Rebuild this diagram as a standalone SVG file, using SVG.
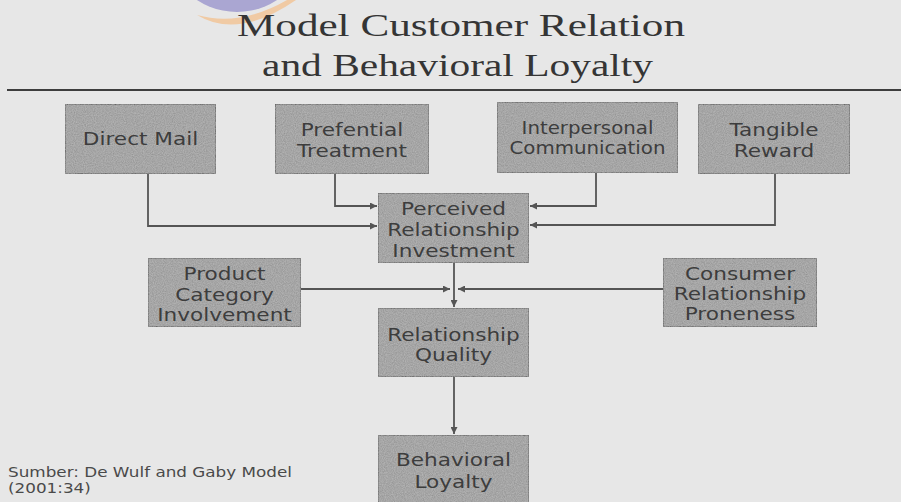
<svg xmlns="http://www.w3.org/2000/svg" width="901" height="502" viewBox="0 0 901 502">
<defs>
<style>
.bg{fill:#e7e7e7}
.box{fill:#8f8f8f;stroke:#595959;stroke-width:2}
.lbl{font-family:"DejaVu Sans",Verdana,sans-serif;font-size:18px;fill:#3d3d3d;text-anchor:middle}
.title{font-family:"Liberation Serif","Times New Roman",serif;font-size:31px;fill:#353535}
.src{font-family:"DejaVu Sans",Verdana,sans-serif;font-size:14px;fill:#4a4a4a}
.conn path{fill:none;stroke:#555;stroke-width:1.8}
</style>
<marker id="arr" viewBox="0 0 10 10" refX="10" refY="5" markerWidth="7" markerHeight="7" markerUnits="userSpaceOnUse" orient="auto">
<path d="M0,0 L10,5 L0,10 Z" fill="#555"/>
</marker>
<filter id="grain" x="0" y="0" width="100%" height="100%">
<feTurbulence type="fractalNoise" baseFrequency="0.9" numOctaves="2" seed="3" result="n"/>
<feColorMatrix in="n" type="matrix" values="0 0 0 0 0.75  0 0 0 0 0.75  0 0 0 0 0.75  0 0 0 0.45 0" result="g"/>
<feComposite in="g" in2="SourceGraphic" operator="in" result="gi"/>
<feMerge><feMergeNode in="SourceGraphic"/><feMergeNode in="gi"/></feMerge>
</filter>
</defs>
<rect class="bg" x="0" y="0" width="901" height="502"/>
<g id="logo">
<circle cx="237" cy="-61" r="73" fill="#aaa6d2"/>
<path d="M197,15 Q238,40 296,0 L287,0 Q240,27 197,15 Z" fill="#f0caa4"/>
</g>
<g id="title">
<text class="title" x="237" y="36" textLength="448" lengthAdjust="spacingAndGlyphs">Model Customer Relation</text>
<text class="title" x="262" y="76" textLength="391" lengthAdjust="spacingAndGlyphs">and Behavioral Loyalty</text>
</g>
<rect x="7" y="89" width="894" height="2" fill="#3d3d3d"/>
<g class="conn" id="connectors">
<path d="M148,174 V226 H377" marker-end="url(#arr)"/>
<path d="M335,174 V206 H377" marker-end="url(#arr)"/>
<path d="M596,173 V206 H530" marker-end="url(#arr)"/>
<path d="M775,174 V225 H530" marker-end="url(#arr)"/>
<path d="M454,263 V307" marker-end="url(#arr)"/>
<path d="M301,289 H450" marker-end="url(#arr)"/>
<path d="M663,289 H458" marker-end="url(#arr)"/>
<path d="M454,377 V434" marker-end="url(#arr)"/>
</g>
<g id="direct-mail">
<rect class="box" x="65" y="104" width="151" height="70" filter="url(#grain)"/>
<g transform="translate(140.5 0) scale(1.2 1)"><text class="lbl" x="0" y="145">Direct Mail</text></g>
</g>
<g id="prefential-treatment">
<rect class="box" x="275" y="104" width="154" height="70" filter="url(#grain)"/>
<g transform="translate(352 0) scale(1.2 1)">
<text class="lbl" x="0" y="136">Prefential</text>
<text class="lbl" x="0" y="157">Treatment</text>
</g>
</g>
<g id="interpersonal-communication">
<rect class="box" x="497" y="102" width="181" height="71" filter="url(#grain)"/>
<g transform="translate(587.5 0) scale(1.1 1)">
<text class="lbl" x="0" y="134">Interpersonal</text>
<text class="lbl" x="0" y="154">Communication</text>
</g>
</g>
<g id="tangible-reward">
<rect class="box" x="698" y="104" width="152" height="70" filter="url(#grain)"/>
<g transform="translate(774 0) scale(1.2 1)">
<text class="lbl" x="0" y="136">Tangible</text>
<text class="lbl" x="0" y="157">Reward</text>
</g>
</g>
<g id="perceived-relationship-investment">
<rect class="box" x="378" y="193" width="151" height="70" filter="url(#grain)"/>
<g transform="translate(453.5 0) scale(1.2 1)">
<text class="lbl" x="0" y="215">Perceived</text>
<text class="lbl" x="0" y="236">Relationship</text>
<text class="lbl" x="0" y="257">Investment</text>
</g>
</g>
<g id="product-category-involvement">
<rect class="box" x="148" y="258" width="153" height="69" filter="url(#grain)"/>
<g transform="translate(224.5 0) scale(1.2 1)">
<text class="lbl" x="0" y="280">Product</text>
<text class="lbl" x="0" y="301">Category</text>
<text class="lbl" x="0" y="321">Involvement</text>
</g>
</g>
<g id="consumer-relationship-proneness">
<rect class="box" x="663" y="258" width="154" height="69" filter="url(#grain)"/>
<g transform="translate(740 0) scale(1.2 1)">
<text class="lbl" x="0" y="280">Consumer</text>
<text class="lbl" x="0" y="300">Relationship</text>
<text class="lbl" x="0" y="320">Proneness</text>
</g>
</g>
<g id="relationship-quality">
<rect class="box" x="378" y="308" width="151" height="69" filter="url(#grain)"/>
<g transform="translate(453.5 0) scale(1.2 1)">
<text class="lbl" x="0" y="341">Relationship</text>
<text class="lbl" x="0" y="361">Quality</text>
</g>
</g>
<g id="behavioral-loyalty">
<rect class="box" x="378" y="435" width="151" height="70" filter="url(#grain)"/>
<g transform="translate(453.5 0) scale(1.2 1)">
<text class="lbl" x="0" y="466">Behavioral</text>
<text class="lbl" x="0" y="488">Loyalty</text>
</g>
</g>
<g id="source" transform="translate(8 0) scale(1.2 1)">
<text class="src" x="0" y="477">Sumber: De Wulf and Gaby Model</text>
<text class="src" x="0" y="493">(2001:34)</text>
</g>
</svg>
